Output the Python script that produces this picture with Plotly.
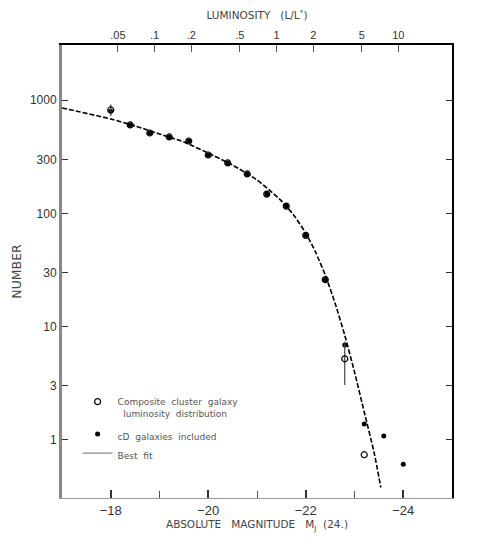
import plotly.graph_objects as go

# composite cluster luminosity function (Schechter-style plot)
mag_bins = [-18.0, -18.4, -18.8, -19.2, -19.6, -20.0, -20.4, -20.8,
            -21.2, -21.6, -22.0, -22.4, -22.8, -23.2]
n_composite = [819, 604, 513, 473, 436, 328, 279, 223,
               148, 116, 64, 26, 5.2, 0.74]
err_composite = [95, 0, 0, 0, 0, 0, 0, 0, 0, 0, 0, 0, 2.15, 0]

mag_cd = [-18.0, -18.4, -18.8, -19.2, -19.6, -20.0, -20.4, -20.8,
          -21.2, -21.6, -22.0, -22.4, -22.8, -23.2, -23.6, -24.0]
n_cd = [800, 604, 513, 473, 436, 328, 279, 223,
        148, 116, 64, 26, 6.9, 1.38, 1.08, 0.61]

# best fit curve
fit_mag = [-17.0, -18.0, -18.5, -19.0, -19.5, -20.0, -20.5, -21.0, -21.25,
           -21.5, -21.75, -22.0, -22.2, -22.4, -22.6, -22.8, -23.0, -23.2,
           -23.4, -23.54]
fit_n = [853, 682, 592, 503, 427, 341, 267, 197, 161,
         129, 97, 67, 45.6, 28.6, 16.2, 8.4, 3.98, 1.76,
         0.78, 0.38]

y_ticks = [1, 3, 10, 30, 100, 300, 1000]
lum_ticks = [0.05, 0.1, 0.2, 0.5, 1, 2, 5, 10]
lum_labels = ['.05', '.1', '.2', '.5', '1', '2', '5', '10']

ink = '#333333'
label_font = dict(family='DejaVu Sans', size=10.5, color='#444')
gap = '&nbsp;&nbsp;&nbsp;'

fig = go.Figure()

fig.add_trace(go.Scatter(
    x=fit_mag, y=fit_n, mode='lines', showlegend=False,
    line=dict(color='black', width=1.6, dash='5px,2px', shape='spline', smoothing=0.6)
))
fig.add_trace(go.Scatter(
    x=mag_cd, y=n_cd, mode='markers', name='cD  galaxies  included',
    marker=dict(symbol='circle', size=5, color='black'),
    legendrank=2, legendgroup='b'
))
fig.add_trace(go.Scatter(
    x=mag_bins, y=n_composite, mode='markers',
    name='Composite  cluster  galaxy<br>  luminosity  distribution',
    marker=dict(symbol='circle-open', size=6, color='black', line=dict(width=1.2)),
    error_y=dict(type='data', array=err_composite, color='#444', width=0, thickness=1.2),
    legendrank=1, legendgroup='a'
))
# legend entry for the fit (solid grey stroke as in the key)
fig.add_trace(go.Scatter(
    x=[None], y=[None], mode='lines', name='Best  fit',
    line=dict(color='#888', width=1.2), legendrank=3, legendgroup='b'
))
# invisible trace to carry the top/right axes
fig.add_trace(go.Scatter(
    x=lum_ticks, y=[1] * len(lum_ticks), xaxis='x2', yaxis='y2',
    mode='markers', marker=dict(opacity=0), showlegend=False, hoverinfo='skip'
))

fig.update_layout(
    width=491, height=545,
    margin=dict(l=54, r=47, t=37, b=55, autoexpand=False),
    paper_bgcolor='white', plot_bgcolor='white',
    font=dict(family='Liberation Sans', size=12, color=ink),
    showlegend=True,
    legend=dict(x=0.04, y=0.24, xanchor='left', yanchor='top', valign='top',
                bgcolor='rgba(0,0,0,0)', font=dict(family='DejaVu Sans', size=9, color='#555'),
                tracegroupgap=6, itemwidth=30),
    xaxis=dict(
        range=[-17, -25], tick0=-18, dtick=2, tickformat='d', automargin=False,
        ticks='inside', ticklen=8, tickwidth=1.5, tickcolor='#333',
        minor=dict(ticks='inside', dtick=1, ticklen=7, tickcolor='#555', tickwidth=1.2),
        showline=True, linecolor='#999', linewidth=1,
        showgrid=False, zeroline=False, tickfont=dict(size=13, color=ink),
        title=dict(text='ABSOLUTE' + gap + 'MAGNITUDE' + gap + 'M<sub>J</sub>&nbsp;&nbsp;(24.)',
                   font=label_font, standoff=4)
    ),
    xaxis2=dict(
        type='log', range=[-1.76, 1.44], overlaying='x', side='top', automargin=False,
        tickvals=lum_ticks, ticktext=lum_labels,
        ticks='inside', ticklen=7, tickwidth=1.2, tickcolor='#555',
        showline=True, linecolor='black', linewidth=1.5,
        showgrid=False, zeroline=False, tickfont=dict(size=11, color=ink),
        title=dict(text='LUMINOSITY' + gap + '(L/L<sup>*</sup>)', font=label_font, standoff=12)
    ),
    yaxis=dict(
        type='log', range=[-0.513, 3.487], automargin=False,
        tickvals=y_ticks, ticktext=[str(v) for v in y_ticks],
        ticks='inside', ticklen=6, tickwidth=1.2, tickcolor='#333',
        showline=True, linecolor='#888', linewidth=3,
        showgrid=False, zeroline=False, tickfont=dict(size=12, color=ink),
        title=dict(text='NUMBER', font=dict(family='DejaVu Sans', size=12.5, color='#444'),
                   standoff=6)
    ),
    yaxis2=dict(
        type='log', range=[-0.513, 3.487], overlaying='y', side='right', automargin=False,
        tickvals=y_ticks, showticklabels=False,
        ticks='inside', ticklen=6, tickwidth=1.2, tickcolor='#333',
        showline=True, linecolor='black', linewidth=1.5,
        showgrid=False, zeroline=False
    ),
)

fig.write_html("out.html")
